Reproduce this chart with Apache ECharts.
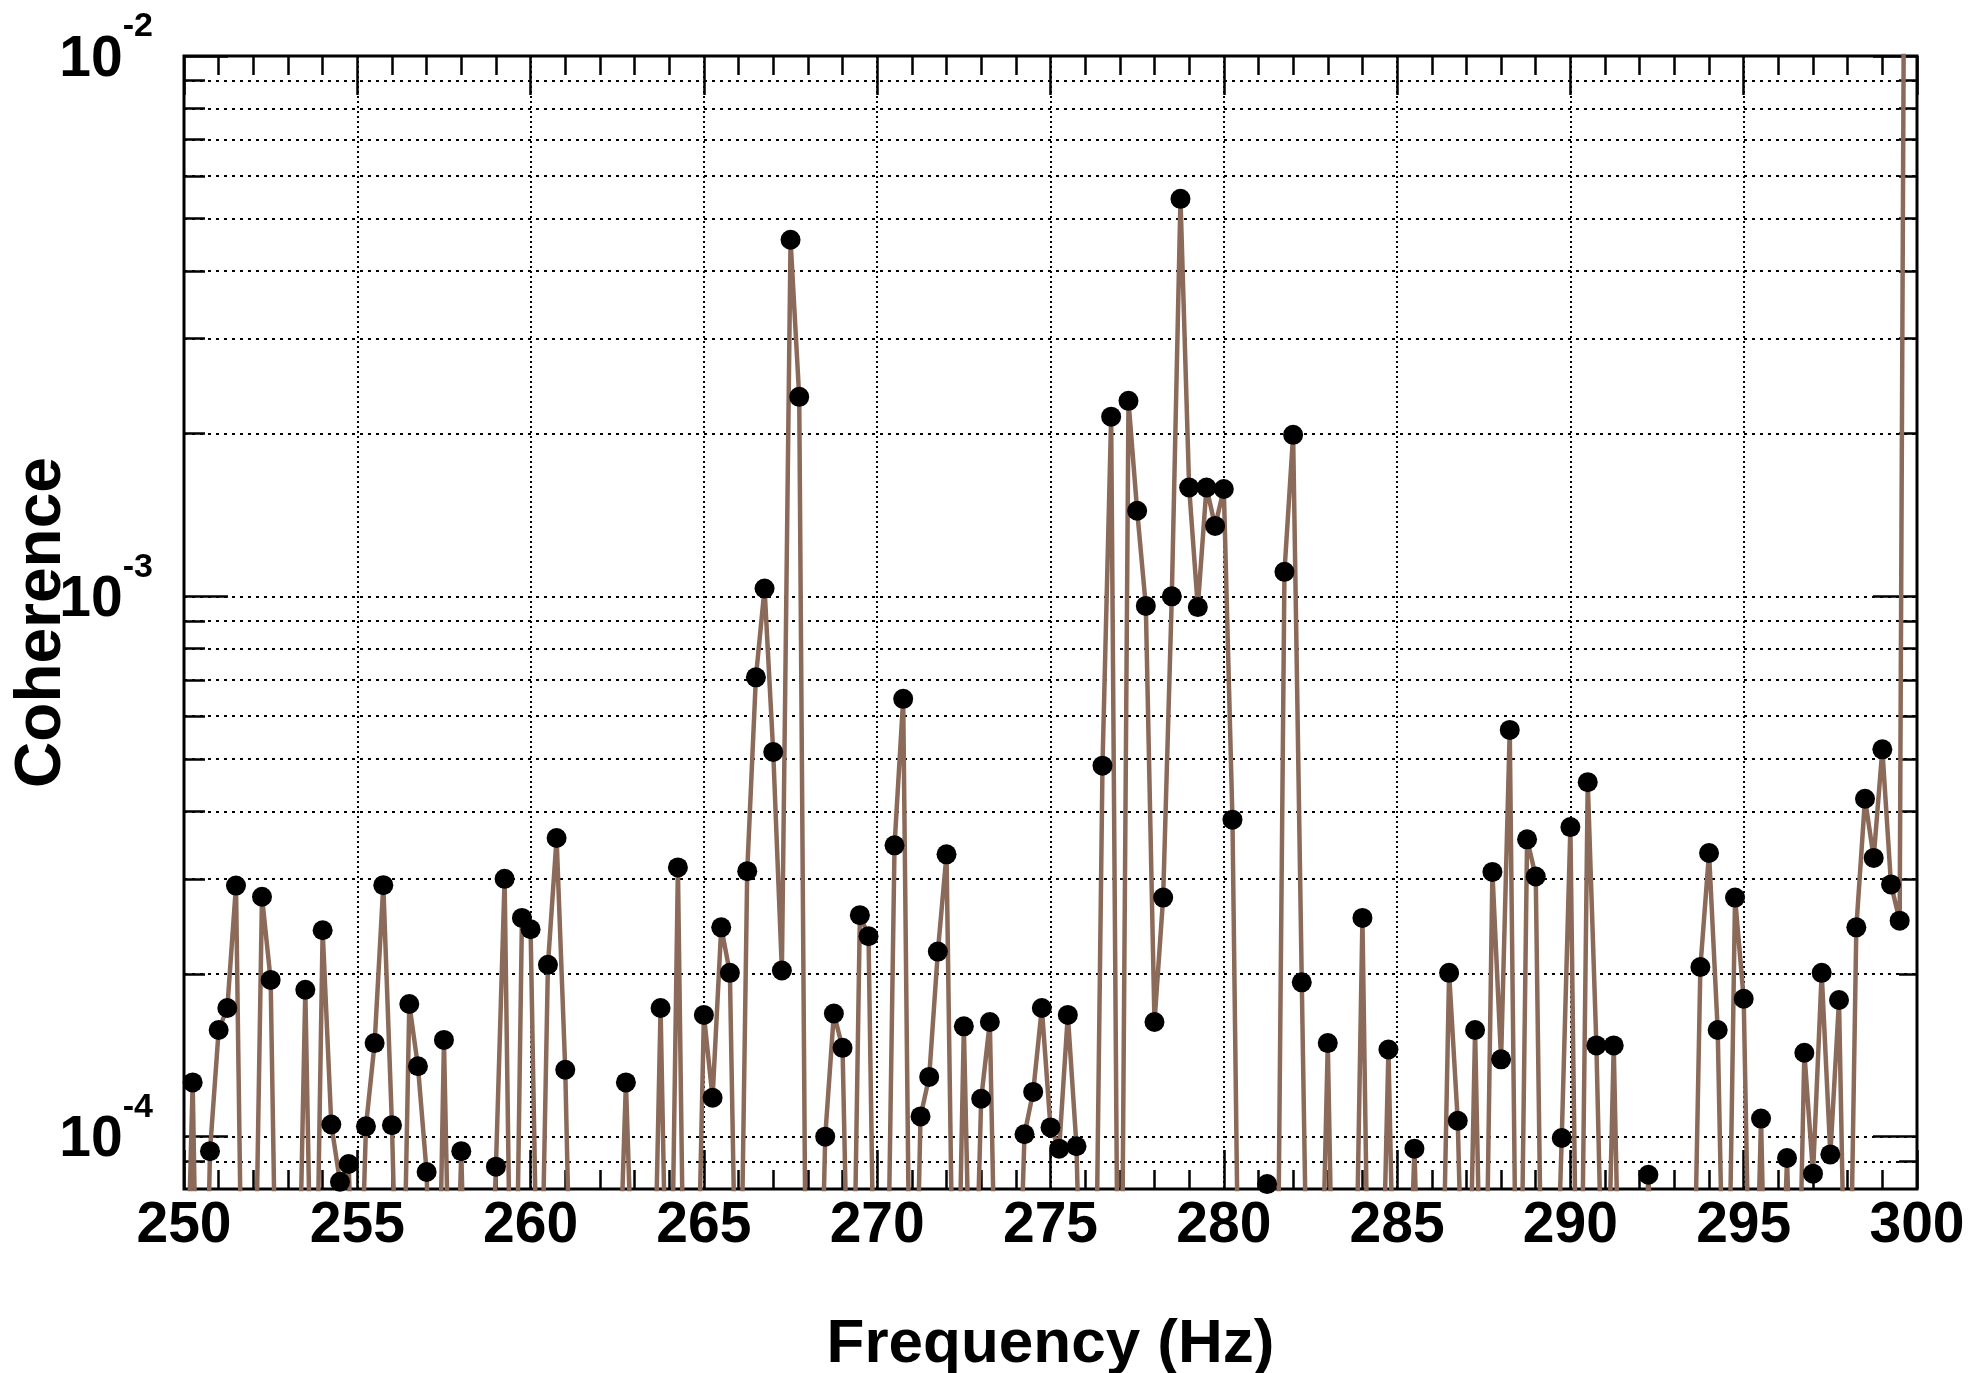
<!DOCTYPE html>
<html>
<head>
<meta charset="utf-8">
<script src="https://cdn.jsdelivr.net/npm/echarts@6/dist/echarts.min.js"></script>
<style>
html,body{margin:0;padding:0;background:#ffffff;}
#chart{width:1973px;height:1373px;}
</style>
</head>
<body>
<div id="chart"></div>
<script>
// ---- data (frequency in Hz, coherence) ----
const frequencies = [
  250,250.25,250.5,250.75,251,251.25,251.5,251.75,252,252.25,252.5,252.75,253,253.25,253.5,253.75,254,254.25,254.5,254.75,
  255,255.25,255.5,255.75,256,256.25,256.5,256.75,257,257.25,257.5,257.75,258,258.25,258.5,258.75,259,259.25,259.5,259.75,
  260,260.25,260.5,260.75,261,261.25,261.5,261.75,262,262.25,262.5,262.75,263,263.25,263.5,263.75,264,264.25,264.5,264.75,
  265,265.25,265.5,265.75,266,266.25,266.5,266.75,267,267.25,267.5,267.75,268,268.25,268.5,268.75,269,269.25,269.5,269.75,
  270,270.25,270.5,270.75,271,271.25,271.5,271.75,272,272.25,272.5,272.75,273,273.25,273.5,273.75,274,274.25,274.5,274.75,
  275,275.25,275.5,275.75,276,276.25,276.5,276.75,277,277.25,277.5,277.75,278,278.25,278.5,278.75,279,279.25,279.5,279.75,
  280,280.25,280.5,280.75,281,281.25,281.5,281.75,282,282.25,282.5,282.75,283,283.25,283.5,283.75,284,284.25,284.5,284.75,
  285,285.25,285.5,285.75,286,286.25,286.5,286.75,287,287.25,287.5,287.75,288,288.25,288.5,288.75,289,289.25,289.5,289.75,
  290,290.25,290.5,290.75,291,291.25,291.5,291.75,292,292.25,292.5,292.75,293,293.25,293.5,293.75,294,294.25,294.5,294.75,
  295,295.25,295.5,295.75,296,296.25,296.5,296.75,297,297.25,297.5,297.75,298,298.25,298.5,298.75,299,299.25,299.5,299.75,
  300
];
const coherence = [
  3e-5,1.26e-4,1.5e-5,9.4e-5,1.575e-4,1.73e-4,2.915e-4,2e-5,3e-5,2.78e-4,1.95e-4,2e-5,2e-5,3e-5,1.87e-4,2.5e-5,2.41e-4,1.053e-4,8.25e-5,8.9e-5,
  3e-5,1.045e-4,1.49e-4,2.92e-4,1.05e-4,2.5e-5,1.76e-4,1.35e-4,8.6e-5,2e-5,1.51e-4,2.5e-5,9.4e-5,2e-5,2e-5,3e-5,8.8e-5,3.0e-4,2e-5,2.54e-4,
  2.42e-4,3e-5,2.08e-4,3.57e-4,1.33e-4,2.5e-5,2e-5,2e-5,2e-5,2e-5,4e-5,1.26e-4,4e-5,2e-5,3e-5,1.73e-4,2.5e-5,3.15e-4,2e-5,3e-5,
  1.68e-4,1.18e-4,2.44e-4,2.01e-4,2.5e-5,3.1e-4,7.08e-4,1.034e-3,5.15e-4,2.03e-4,4.57e-3,2.34e-3,1.5e-5,2e-5,1.0e-4,1.69e-4,1.46e-4,2.5e-5,2.57e-4,2.35e-4,
  2e-5,3e-5,3.46e-4,6.46e-4,2e-5,1.09e-4,1.29e-4,2.2e-4,3.33e-4,2.5e-5,1.6e-4,3e-5,1.175e-4,1.63e-4,2.5e-5,2e-5,3e-5,1.01e-4,1.21e-4,1.73e-4,
  1.04e-4,9.5e-5,1.68e-4,9.6e-5,2e-5,2.5e-5,4.86e-4,2.15e-3,1.5e-5,2.3e-3,1.44e-3,9.6e-4,1.63e-4,2.77e-4,1.0e-3,5.44e-3,1.59e-3,9.55e-4,1.59e-3,1.35e-3,
  1.58e-3,3.86e-4,2e-5,2.5e-5,3e-5,8.17e-5,2e-5,1.11e-3,1.99e-3,1.93e-4,2e-5,3e-5,1.49e-4,2e-5,2.5e-5,3e-5,2.54e-4,2e-5,3e-5,1.45e-4,
  2.5e-5,3e-5,9.5e-5,2.5e-5,2e-5,3e-5,2.01e-4,1.07e-4,2.5e-5,1.575e-4,2.5e-5,3.09e-4,1.39e-4,5.66e-4,2e-5,3.55e-4,3.03e-4,2e-5,3e-5,9.94e-5,
  3.74e-4,2e-5,4.53e-4,1.475e-4,3e-5,1.475e-4,2.5e-5,2e-5,3e-5,8.5e-5,3e-5,2e-5,2.5e-5,2e-5,3e-5,2.06e-4,3.35e-4,1.575e-4,2.5e-5,2.77e-4,
  1.8e-4,2.5e-5,1.08e-4,2e-5,3e-5,9.13e-5,2.5e-5,1.43e-4,8.54e-5,2.01e-4,9.27e-5,1.79e-4,2.5e-5,2.44e-4,4.22e-4,3.28e-4,5.21e-4,2.93e-4,2.51e-4,0.8,
  0.6
];
// ---- axes ----
const xMin = 250, xMax = 300, xStep = 5;
const yMin = 8e-5, yMax = 1e-2;
const yMajorTicks = [1e-4, 1e-3, 1e-2];
const yMinorTicks = [9e-5,
  2e-4,3e-4,4e-4,5e-4,6e-4,7e-4,8e-4,9e-4,
  2e-3,3e-3,4e-3,5e-3,6e-3,7e-3,8e-3,9e-3];
const xTitle = 'Frequency (Hz)';
const yTitle = 'Coherence';

const FONT = '"Liberation Sans", Arial, Helvetica, sans-serif';
const tickStyle = {color:'#000', width:2.5};
const hDotted = {color:'#000', width:2, type:[3,5]};
const vDotted = {color:'#000', width:2, type:[2,3]};

const seriesData = frequencies.map((f, i) => [f, coherence[i]]);

function xAxisCfg(pos, withLabels) {
  return {
    type:'value', position:pos, min:xMin, max:xMax, interval:xStep,
    axisLine:{show:false},
    axisTick:{show:true, inside:true, length:39, lineStyle:tickStyle},
    minorTick:{show:true, splitNumber:5, length:19, lineStyle:tickStyle},
    axisLabel:{show:withLabels, margin:9, fontFamily:FONT, fontWeight:'bold', fontSize:57, lineHeight:57,
               color:'#000', showMinLabel:true, showMaxLabel:true},
    splitLine:{show:withLabels, lineStyle:vDotted},
    name: withLabels ? xTitle : '',
    nameLocation:'middle', nameGap:125, nameMoveOverlap:false,
    nameTextStyle:{fontFamily:FONT, fontWeight:'bold', fontSize:62, color:'#000'}
  };
}
function yAxisCfg(pos, ticks, len, withLabels, withSplit, withName) {
  return {
    type:'log', logBase:10, position:pos, min:yMin, max:yMax,
    axisLine:{show:false},
    axisTick:{show:true, inside:true, length:len, lineStyle:tickStyle, customValues:ticks},
    minorTick:{show:false},
    axisLabel:{
      show:withLabels, customValues:ticks, margin:31, align:'right', padding:[8,0,0,0],
      formatter: function (v) {
        const e = Math.round(Math.log10(v));
        return '{b|10}{s|' + e + '}';
      },
      rich:{
        b:{fontFamily:FONT, fontWeight:'bold', fontSize:57, lineHeight:100, color:'#000'},
        s:{fontFamily:FONT, fontWeight:'bold', fontSize:34, lineHeight:34, verticalAlign:'top', color:'#000'}
      }
    },
    splitLine:{show:withSplit, lineStyle:hDotted},
    name: withName ? yTitle : '',
    nameLocation:'middle', nameGap:110, nameRotate:90, nameMoveOverlap:false,
    nameTextStyle:{fontFamily:FONT, fontWeight:'bold', fontSize:64, color:'#000'}
  };
}

const chart = echarts.init(document.getElementById('chart'), null, {renderer:'canvas'});
chart.setOption({
  animation:false,
  backgroundColor:'#ffffff',
  grid:{left:184, right:56, top:56, bottom:184, show:true, borderColor:'#000', borderWidth:3,
        backgroundColor:'transparent', containLabel:false, outerBoundsMode:'none'},
  xAxis:[ xAxisCfg('bottom', true), xAxisCfg('top', false) ],
  yAxis:[
    yAxisCfg('left', yMajorTicks, 44, true, true, true),
    yAxisCfg('left', yMinorTicks, 21, false, true, false),
    yAxisCfg('right', yMajorTicks, 44, false, false, false),
    yAxisCfg('right', yMinorTicks, 18, false, false, false)
  ],
  series:[{
    type:'line', xAxisIndex:0, yAxisIndex:0,
    data:seriesData,
    clip:true,
    symbol:'circle', symbolSize:20,
    itemStyle:{color:'#000'},
    lineStyle:{color:'#8b6a5a', width:4.5},
    z:5
  }]
});
</script>
</body>
</html>
